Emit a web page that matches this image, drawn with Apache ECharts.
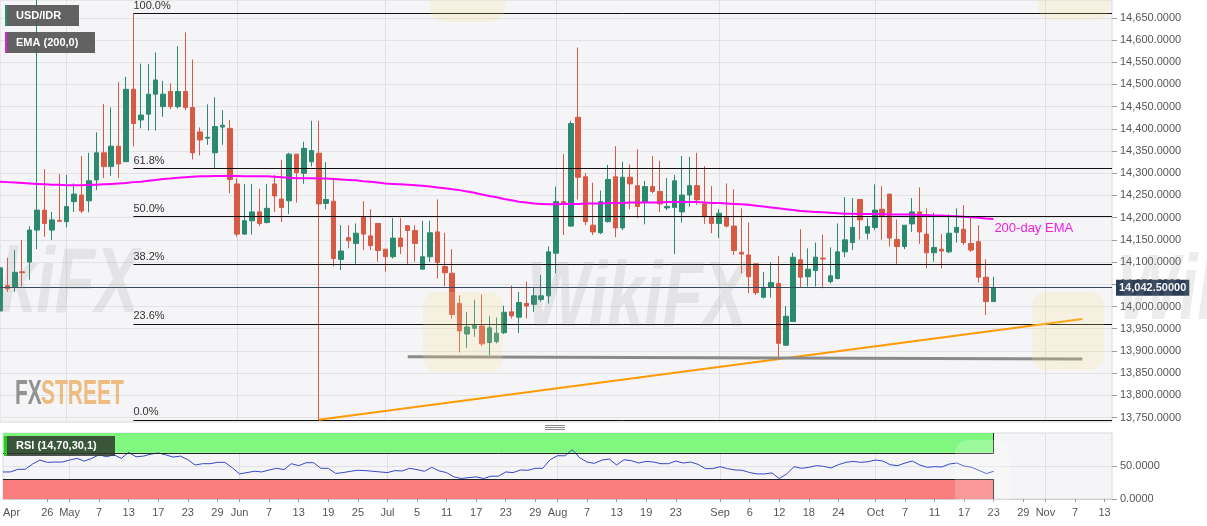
<!DOCTYPE html>
<html><head><meta charset="utf-8">
<script src="https://cdn.jsdelivr.net/npm/echarts@6/dist/echarts.min.js"></script>
<style>html,body{margin:0;padding:0;background:#fff;}#c{width:1207px;height:526px;}</style>
</head><body><div id="c"></div>
<script>
function weekdays(start, end) {
  const out = [];
  const d = new Date(start + 'T00:00:00Z');
  const e = new Date(end + 'T00:00:00Z');
  while (d <= e) {
    const wd = d.getUTCDay();
    if (wd !== 0 && wd !== 6) out.push(d.toISOString().slice(0, 10));
    d.setUTCDate(d.getUTCDate() + 1);
  }
  return out;
}
const categories = weekdays('2019-04-18', '2019-11-14');

const openP = [13990,14047,14043,14078,14100,14172,14217,14172,14194,14191,
14236,14251,14238,14285,14346,14315,14361,14326,14489,14420,
14433,14478,14450,14484,14450,14484,14448,14393,14379,14346,
14404,14401,14276,14163,14193,14213,14189,14276,14242,14238,
14343,14300,14326,14345,14232,14237,14106,14155,14142,14202,
14159,14187,14129,14112,14154,14182,14171,14084,14112,14168,
14090,14075,14007,13938,13951,13956,13919,13921,13941,13988,
13976,14007,14005,14016,14024,14120,14236,14181,14426,14292,
14183,14166,14191,14292,14177,14291,14272,14235,14270,14259,
14222,14223,14213,14251,14272,14231,14201,14187,14202,14181,
14122,14116,14096,14021,14043,14052,13913,13966,14105,14067,
14081,14109,14056,14063,14123,14144,14241,14165,14178,14219,
14253,14151,14135,14186,14213,14163,14121,14129,14123,14167,
14174,14142,14146,14066,14011];
const highP = [14092,14110,14127,14150,14181,14800,14309,14213,14298,14296,
14277,14339,14346,14392,14456,14448,14505,14517,14660,14547,
14546,14572,14508,14502,14586,14617,14556,14403,14455,14471,
14442,14420,14289,14276,14276,14265,14276,14296,14330,14346,
14343,14371,14418,14418,14325,14290,14183,14183,14187,14237,
14219,14187,14129,14199,14199,14182,14183,14193,14193,14241,
14166,14129,14025,13988,14015,14027,13979,13975,14002,14047,
14033,14056,14042,14071,14135,14270,14343,14418,14583,14301,
14279,14261,14319,14361,14326,14320,14354,14283,14339,14328,
14289,14296,14339,14337,14346,14316,14271,14219,14277,14264,
14221,14189,14096,14078,14099,14114,14001,14121,14174,14131,
14144,14162,14133,14187,14246,14244,14241,14199,14275,14271,
14253,14196,14183,14244,14268,14221,14211,14163,14208,14221,
14228,14201,14183,14106,14067];
const lowP = [13975,14033,14033,14045,14060,14129,14157,14150,14190,14178,
14213,14210,14212,14262,14289,14294,14289,14326,14360,14401,
14396,14396,14427,14444,14446,14442,14331,14340,14364,14311,
14364,14255,14157,14161,14162,14181,14187,14213,14190,14208,
14234,14276,14315,13745,14219,14090,14082,14131,14096,14127,
14127,14101,14078,14108,14118,14096,14101,14084,14100,14063,
14045,13973,13897,13907,13932,13911,13890,13917,13938,13973,
13940,13973,13988,14011,14007,14075,14161,14180,14241,14183,
14161,14163,14189,14156,14172,14219,14199,14185,14255,14213,
14217,14118,14189,14225,14229,14186,14165,14154,14178,14116,
14075,14030,14026,14018,14020,13883,13911,13966,14043,14045,
14045,14041,14052,14061,14111,14127,14151,14151,14172,14150,
14135,14096,14129,14168,14141,14086,14101,14086,14120,14144,
14138,14123,14054,13981,14011];
const closeP = [14087,14040,14077,14076,14172,14217,14187,14195,14192,14225,
14253,14215,14283,14346,14315,14361,14321,14489,14412,14431,
14478,14510,14478,14450,14484,14448,14346,14375,14381,14405,
14408,14286,14163,14193,14213,14187,14221,14249,14223,14343,
14301,14356,14351,14231,14241,14108,14125,14148,14165,14163,
14137,14126,14112,14154,14135,14171,14142,14112,14166,14099,
14076,13982,13945,13954,13957,13916,13952,13940,13987,13979,
14009,14001,14024,14024,14123,14236,14231,14412,14291,14191,
14168,14236,14286,14177,14291,14276,14225,14270,14259,14231,
14225,14283,14251,14272,14240,14202,14187,14210,14181,14126,
14118,14067,14031,14043,14054,13917,13978,14111,14066,14084,
14111,14107,14069,14123,14150,14178,14195,14180,14217,14204,
14154,14135,14183,14213,14168,14121,14133,14125,14165,14178,
14144,14127,14066,14011,14042.5];

const ema200 = [14281,14280,14279,14278,14277,14276,14275,14274,14274,14273,
14273,14273,14274,14274,14275,14276,14277,14278,14280,14281,
14283,14285,14287,14288,14290,14291,14292,14293,14293,14294,
14294,14294,14294,14293,14293,14293,14293,14292,14291,14290,
14289,14289,14289,14288,14288,14287,14286,14285,14284,14282,
14281,14279,14277,14276,14275,14274,14273,14272,14270,14268,
14266,14264,14262,14259,14256,14252,14249,14246,14242,14239,
14236,14234,14232,14231,14230,14230,14231,14231,14231,14232,
14232,14232,14233,14233,14233,14234,14234,14234,14234,14234,
14235,14235,14235,14235,14235,14234,14233,14233,14232,14231,
14230,14229,14227,14225,14223,14221,14219,14217,14215,14214,
14213,14212,14211,14210,14209,14209,14208,14208,14208,14208,
14207,14207,14207,14207,14206,14206,14205,14205,14204,14203,
14202,14201,14200,14198,14197];

const rsi14 = [41,41,45,45,53,59,55.5,56,56,59,
61.5,57.5,61.5,67,64,67,61.5,70.6,64,65,
68,69.7,67,63.5,65,59.5,51.5,53.5,53.5,55.5,
55.5,47.5,38,40,42,41,44,46.5,44.5,53.5,
50.5,55,55,46.5,46.5,38.7,40,42,43.5,43,
42,41,40,43,42.5,46.5,44.5,42,48,42.5,
40,33.5,31,32.5,33.5,31,34.5,34.5,41,40,
44,43.5,46.5,46.5,59.5,65.6,65.5,74.7,62.5,56,
54,59,60.5,51.5,59.5,58,54.5,57,56,53.5,
53.5,57.5,54.5,56,52.5,46,46,49,46,44,
43.5,40,38,38,39.5,31,38,49,46.5,48,
50.5,49.5,47,52,55.5,57,55.5,56.5,59,57.5,
52,50.5,54.5,57.5,51.5,48,49,48.5,53,54.5,
50,48,43.5,38.5,42];

const tickLabels = [
 ['2019-04-18','Apr'],['2019-04-26','26'],['2019-05-01','May'],['2019-05-07','7'],['2019-05-13','13'],
 ['2019-05-17','17'],['2019-05-23','23'],['2019-05-29','29'],['2019-06-03','Jun'],['2019-06-07','7'],
 ['2019-06-13','13'],['2019-06-19','19'],['2019-06-25','25'],['2019-07-01','Jul'],['2019-07-05','5'],
 ['2019-07-11','11'],['2019-07-17','17'],['2019-07-23','23'],['2019-07-29','29'],['2019-08-01','Aug'],
 ['2019-08-07','7'],['2019-08-13','13'],['2019-08-19','19'],['2019-08-23','23'],['2019-09-02','Sep'],
 ['2019-09-06','6'],['2019-09-12','12'],['2019-09-18','18'],['2019-09-24','24'],['2019-10-01','Oct'],
 ['2019-10-07','7'],['2019-10-11','11'],['2019-10-17','17'],['2019-10-23','23'],['2019-10-29','29'],
 ['2019-11-01','Nov'],['2019-11-07','7'],['2019-11-13','13']
];
const monthStarts = ['2019-05-01','2019-06-03','2019-07-01','2019-08-01','2019-09-02','2019-10-01','2019-11-01'];
const priceTicks = [13750,13800,13850,13900,13950,14000,14050,14100,14150,14200,14250,14300,14350,14400,14450,14500,14550,14600,14650];
const rsiTicks = [0, 50];

const fibHigh = 14660, fibLow = 13745;
const fibStart = '2019-05-14';
const fibRatios = [1, 0.618, 0.5, 0.382, 0.236, 0];
const fibNames = ['100.0%','61.8%','50.0%','38.2%','23.6%','0.0%'];
const lastPrice = 14042.5;
const trendLine = [['2019-06-18', 13745], ['2019-11-08', 13972]];
const supportLine = [['2019-07-04', 13887], ['2019-11-08', 13882]];
const rsiEnd = '2019-10-23';

const labelMap = new Map(tickLabels);
function fmtPrice(v) {
  const s = Number(v).toFixed(4);
  const p = s.split('.');
  return p[0].replace(/\B(?=(\d{3})+(?!\d))/g, ',') + '.' + p[1];
}
const ohlc = openP.map((o, i) => [o, closeP[i], lowP[i], highP[i]]);
const lastCat = categories[categories.length - 1];
const FONT = '"Liberation Sans", Arial, sans-serif';

const fibLines = fibRatios.map((r, k) => {
  const v = fibLow + r * (fibHigh - fibLow);
  return [
    {coord: [fibStart, v], label: {show: true, formatter: fibNames[k], position: 'insideStartTop', distance: [0, 2], color: '#333', fontSize: 11}, lineStyle: {color: '#111', width: 1, type: 'solid'}},
    {coord: [lastCat, v]}
  ];
});

function wm(x, y, text) {
  return {type: 'text', z: 50, silent: true, x: x, y: y, scaleX: 0.72,
    style: {x: 0, y: 0, text: text, font: 'italic bold 92px ' + FONT, fill: 'rgba(150,140,140,0.17)', verticalAlign: 'bottom', textVerticalAlign: 'bottom'}};
}
function logo(x, y, w, h, fill) {
  return {type: 'rect', z: 50, silent: true, shape: {x: x, y: y, width: w, height: h, r: 14}, style: {fill: fill}};
}
function box(x, y, w, h, fill, z) {
  return {type: 'rect', z: z, silent: true, shape: {x: x, y: y, width: w, height: h}, style: {fill: fill}};
}
function label(x, y, text) {
  return {type: 'text', z: 62, silent: true, x: x, y: y,
    style: {text: text, font: 'bold 11px ' + FONT, fill: '#ffffff', verticalAlign: 'middle', textVerticalAlign: 'middle'}};
}

const chart = echarts.init(document.getElementById('c'), null, {renderer: 'canvas', width: 1207, height: 526});
const option = {
  animation: false,
  backgroundColor: '#ffffff',
  textStyle: {fontFamily: FONT},
  grid: [
    {left: 0, right: 95, top: 0, height: 422, show: true, backgroundColor: '#f5f5f7', borderColor: '#d9d9dc', borderWidth: 1},
    {left: 0, right: 95, top: 433, height: 66, show: true, backgroundColor: '#f5f5f7', borderColor: '#d9d9dc', borderWidth: 1}
  ],
  xAxis: [
    {type: 'category', gridIndex: 0, data: categories, boundaryGap: false,
     axisLine: {show: false}, axisTick: {show: false}, axisLabel: {show: false},
     splitLine: {show: true, interval: (i, v) => monthStarts.includes(v), lineStyle: {color: '#e0e0e3'}}},
    {type: 'category', gridIndex: 1, data: categories, boundaryGap: false,
     axisLine: {show: true, lineStyle: {color: '#cfcfd2'}},
     axisTick: {show: true, length: 3, interval: (i, v) => labelMap.has(v) && i > 0, lineStyle: {color: '#999'}},
     axisLabel: {show: true, interval: (i, v) => labelMap.has(v), formatter: v => labelMap.get(v) || '',
       color: '#555', fontSize: 11, margin: 8, alignMinLabel: 'left', fontFamily: FONT},
     splitLine: {show: true, interval: (i, v) => monthStarts.includes(v), lineStyle: {color: '#e0e0e3'}}}
  ],
  yAxis: [
    {type: 'value', gridIndex: 0, position: 'right', min: 13740, max: 14690,
     axisLine: {show: false},
     axisTick: {show: true, customValues: priceTicks, length: 5, lineStyle: {color: '#999'}},
     axisLabel: {customValues: priceTicks, formatter: fmtPrice, color: '#555', fontSize: 11, margin: 8, fontFamily: FONT},
     splitLine: {show: true, lineStyle: {color: '#e3e3e6'}}},
    {type: 'value', gridIndex: 1, position: 'right', min: 0, max: 100, interval: 50,
     axisLine: {show: false},
     axisTick: {show: true, customValues: rsiTicks, length: 5, lineStyle: {color: '#999'}},
     axisLabel: {customValues: rsiTicks, formatter: v => Number(v).toFixed(4), color: '#555', fontSize: 11, margin: 8, fontFamily: FONT},
     splitLine: {show: true, lineStyle: {color: '#e3e3e6'}}}
  ],
  series: [
    {name: 'USD/IDR', type: 'candlestick', xAxisIndex: 0, yAxisIndex: 0, data: ohlc, barWidth: 5, clip: true, z: 2,
     itemStyle: {color: '#2b8a6e', color0: '#d75a45', borderColor: '#2b8a6e', borderColor0: '#d75a45', borderWidth: 1}},
    {name: 'EMA', type: 'line', xAxisIndex: 0, yAxisIndex: 0, data: ema200, showSymbol: false, z: 3, smooth: false,
     lineStyle: {color: '#ff00ff', width: 2},
     endLabel: {show: true, formatter: '200-day EMA', color: '#f01ee0', fontSize: 13, distance: 1, offset: [0, 9], fontFamily: FONT}},
    {name: 'drawings', type: 'line', xAxisIndex: 0, yAxisIndex: 0, data: [], z: 4,
     markLine: {silent: true, symbol: ['none', 'none'], animation: false, emphasis: {disabled: true},
       label: {show: false},
       data: [
         ...fibLines,
         {yAxis: lastPrice, lineStyle: {color: '#34495e', width: 1, type: 'solid'},
          label: {show: true, position: 'end', formatter: fmtPrice(lastPrice) + '0', color: '#fff', fontWeight: 'bold', fontSize: 11,
                  backgroundColor: '#2c3e57', padding: [3, 3, 2, 3], distance: 4}},
         [{coord: trendLine[0], lineStyle: {color: '#ff9a00', width: 2, type: 'solid'}}, {coord: trendLine[1]}],
         [{coord: supportLine[0], lineStyle: {color: '#8a8a8a', width: 3, type: 'solid'}}, {coord: supportLine[1]}]
       ]}},
    {name: 'rsiZones', type: 'line', xAxisIndex: 1, yAxisIndex: 1, data: [], z: 1,
     markArea: {silent: true, data: [
       [{coord: [categories[0], 70], itemStyle: {color: '#80f880'}}, {coord: [rsiEnd, 100]}],
       [{coord: [categories[0], 0], itemStyle: {color: '#f87d7d'}}, {coord: [rsiEnd, 30]}]
     ]},
     markLine: {silent: true, symbol: ['none', 'none'], label: {show: false}, emphasis: {disabled: true},
       lineStyle: {color: '#222', width: 1, type: 'solid'},
       data: [
         [{coord: [categories[0], 70]}, {coord: [rsiEnd, 70]}],
         [{coord: [categories[0], 30]}, {coord: [rsiEnd, 30]}],
         [{coord: [rsiEnd, 70]}, {coord: [rsiEnd, 100]}],
         [{coord: [rsiEnd, 0]}, {coord: [rsiEnd, 30]}]
       ]}},
    {name: 'RSI', type: 'line', xAxisIndex: 1, yAxisIndex: 1, data: rsi14, showSymbol: false, z: 3,
     lineStyle: {color: '#3547c8', width: 1}}
  ],
  graphic: [
    logo(423, 292, 80, 80, 'rgba(248,222,140,0.22)'),
    logo(1032, 292, 72, 78, 'rgba(248,222,140,0.22)'),
    logo(430, -58, 75, 80, 'rgba(248,222,140,0.2)'),
    logo(1038, -58, 72, 78, 'rgba(248,222,140,0.2)'),
    logo(955, 440, 55, 70, 'rgba(255,255,255,0.22)'),
    wm(527, 347, 'WikiFX'),
    wm(-81, 333, 'WikiFX'),
    wm(1117, 340, 'WikiFX'),
    {type: 'text', z: 55, silent: true, x: 15, y: 377, scaleX: 0.6, style: {x: 0, y: 0, text: 'FX', font: 'bold 35px ' + FONT, fill: 'rgba(128,128,128,0.85)', verticalAlign: 'top', textVerticalAlign: 'top'}},
    {type: 'text', z: 55, silent: true, x: 41, y: 377, scaleX: 0.6, style: {x: 0, y: 0, text: 'STREET', font: 'bold 35px ' + FONT, fill: 'rgba(232,168,88,0.75)', verticalAlign: 'top', textVerticalAlign: 'top'}},
    box(5, 5, 74, 21, 'rgba(85,85,85,0.92)', 60),
    box(5, 5, 2, 21, '#2a8f75', 61),
    label(16, 15.5, 'USD/IDR'),
    box(5, 32, 90, 21, 'rgba(85,85,85,0.92)', 60),
    box(5, 32, 2, 21, '#e020d8', 61),
    label(16, 42.5, 'EMA (200,0)'),
    box(4, 436, 111, 20, 'rgba(45,58,45,0.85)', 60),
    box(4, 436, 3, 20, '#22cc22', 61),
    label(16, 446, 'RSI (14,70,30,1)'),
    {type: 'line', z: 60, silent: true, shape: {x1: 545, y1: 425.5, x2: 565, y2: 425.5}, style: {stroke: '#888', lineWidth: 1}},
    {type: 'line', z: 60, silent: true, shape: {x1: 545, y1: 427.5, x2: 565, y2: 427.5}, style: {stroke: '#888', lineWidth: 1}},
    {type: 'line', z: 60, silent: true, shape: {x1: 545, y1: 429.5, x2: 565, y2: 429.5}, style: {stroke: '#888', lineWidth: 1}}
  ]
};
chart.setOption(option);
</script></body></html>
